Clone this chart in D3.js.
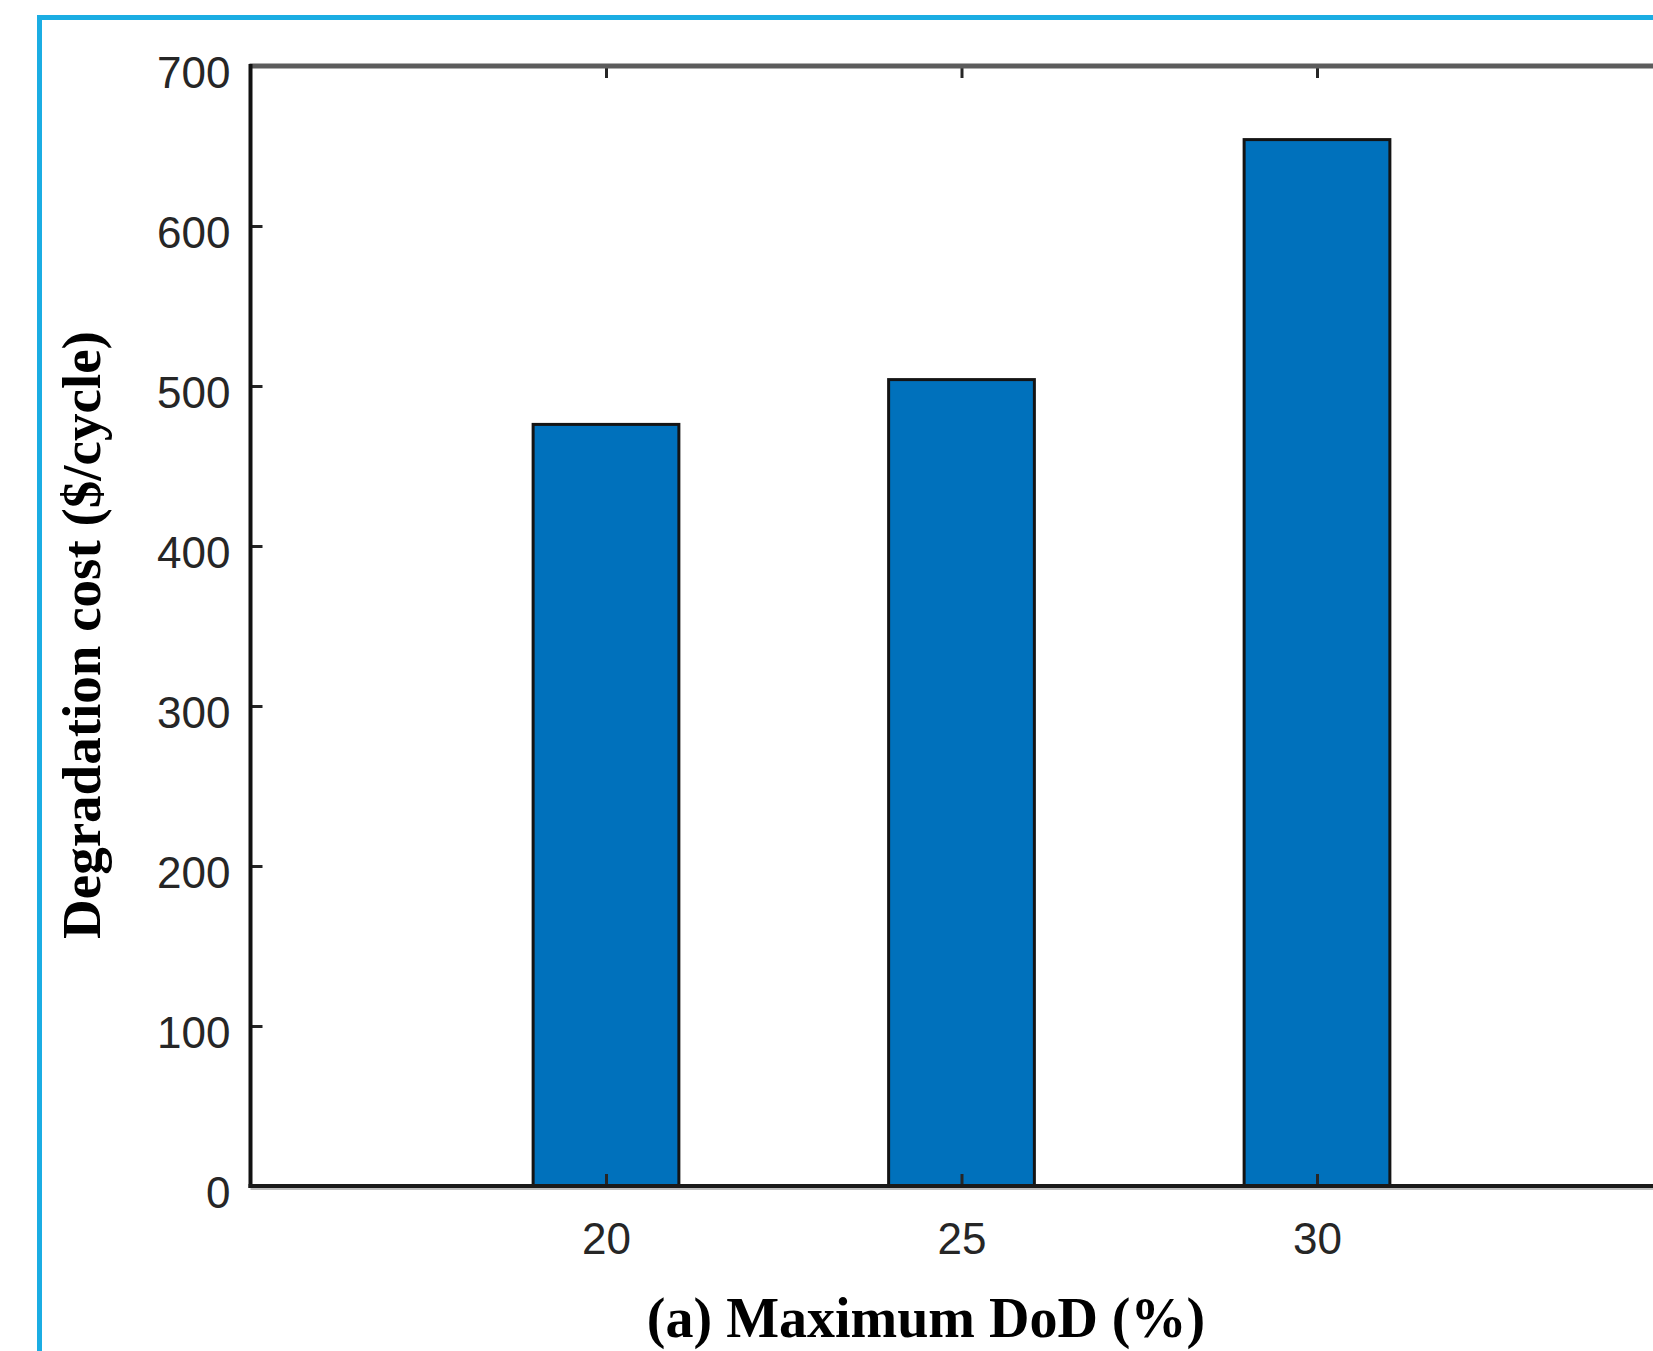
<!DOCTYPE html>
<html lang="en">
<head>
<meta charset="utf-8">
<title>Degradation cost vs maximum DoD</title>
<script src="https://cdnjs.cloudflare.com/ajax/libs/d3/7.8.5/d3.min.js"></script>
<style>
  body { margin: 0; background: #fff; }
  svg { display: block; }
</style>
</head>
<body>
<div id="chart"></div>
<script>
// data
var dod = [20, 25, 30];
var cost = [476, 504, 654];
var xTicks = [20, 25, 30];
var yTicks = [0, 100, 200, 300, 400, 500, 600, 700];

var W = 1653, H = 1351;
var plotLeft = 250.5, plotTop = 66, plotBottom = 1186;
var plotRight = plotLeft + 20 * 71.1;   // x domain 15..35, right edge falls just off the page

var svg = d3.select("#chart").append("svg")
    .attr("width", W)
    .attr("height", H);

svg.append("rect").attr("width", W).attr("height", H).attr("fill", "#fff");

// blue frame round the figure
svg.append("rect")
    .attr("x", 39.5).attr("y", 17.5)
    .attr("width", 1700).attr("height", 1400)
    .attr("fill", "none")
    .attr("stroke", "#1bade3")
    .attr("stroke-width", 5);

var x = d3.scaleLinear().domain([15, 35]).range([plotLeft, plotRight]);
var y = d3.scaleLinear().domain([0, 700]).range([plotBottom, plotTop]);

var barW = 2.05; // in x units

// bars
svg.selectAll("rect.bar")
    .data(dod)
    .enter().append("rect")
    .attr("class", "bar")
    .attr("x", function(d){ return x(d - barW / 2); })
    .attr("y", function(d, i){ return y(cost[i]); })
    .attr("width", function(d){ return x(d + barW / 2) - x(d - barW / 2); })
    .attr("height", function(d, i){ return y(0) - y(cost[i]); })
    .attr("fill", "#0071bc")
    .attr("stroke", "#141414")
    .attr("stroke-width", 3);

// axes
var tickFont = "'Liberation Sans', Arial, Helvetica, sans-serif";

var yAxis = svg.append("g")
    .attr("transform", "translate(" + plotLeft + ",0)")
    .call(d3.axisLeft(y).tickValues(yTicks).tickSizeInner(-12).tickSizeOuter(0).tickPadding(20));

var xAxis = svg.append("g")
    .attr("transform", "translate(0," + plotBottom + ")")
    .call(d3.axisBottom(x).tickValues(xTicks).tickSizeInner(-12).tickSizeOuter(0).tickPadding(37));

var xTop = svg.append("g")
    .attr("transform", "translate(0," + plotTop + ")")
    .call(d3.axisTop(x).tickValues(xTicks).tickSizeInner(-12).tickSizeOuter(0).tickFormat(""));

[yAxis, xAxis, xTop].forEach(function(g){
  g.select(".domain").remove();
  g.attr("font-size", 44).attr("font-family", tickFont);
  g.selectAll(".tick line").attr("stroke", "#262626").attr("stroke-width", 3);
  g.selectAll(".tick text").attr("fill", "#262626");
});
yAxis.selectAll(".tick text").attr("dy", "0.48em");

// box lines
svg.append("line")
    .attr("x1", plotLeft - 1).attr("x2", W + 20)
    .attr("y1", plotTop).attr("y2", plotTop)
    .attr("stroke", "#5c5c5c").attr("stroke-width", 5);
svg.append("line")
    .attr("x1", plotLeft).attr("x2", plotLeft)
    .attr("y1", plotTop - 2).attr("y2", plotBottom + 2)
    .attr("stroke", "#111").attr("stroke-width", 4);
svg.append("line")
    .attr("x1", plotLeft).attr("x2", W + 20)
    .attr("y1", plotBottom + 3).attr("y2", plotBottom + 3)
    .attr("stroke", "#bdbdbd").attr("stroke-width", 2);
svg.append("line")
    .attr("x1", plotLeft - 2).attr("x2", W + 20)
    .attr("y1", plotBottom).attr("y2", plotBottom)
    .attr("stroke", "#1a1a1a").attr("stroke-width", 4);

// axis titles
var titleFont = "'Liberation Serif', 'Times New Roman', Times, serif";

svg.append("text")
    .attr("transform", "translate(100,635) rotate(-90)")
    .attr("text-anchor", "middle")
    .attr("font-family", titleFont)
    .attr("font-weight", "bold")
    .attr("font-size", 55)
    .attr("fill", "#000")
    .text("Degradation cost ($/cycle)");

svg.append("text")
    .attr("x", 926)
    .attr("y", 1337)
    .attr("text-anchor", "middle")
    .attr("font-family", titleFont)
    .attr("font-weight", "bold")
    .attr("font-size", 56)
    .attr("fill", "#000")
    .text("(a) Maximum DoD (%)");
</script>
</body>
</html>
